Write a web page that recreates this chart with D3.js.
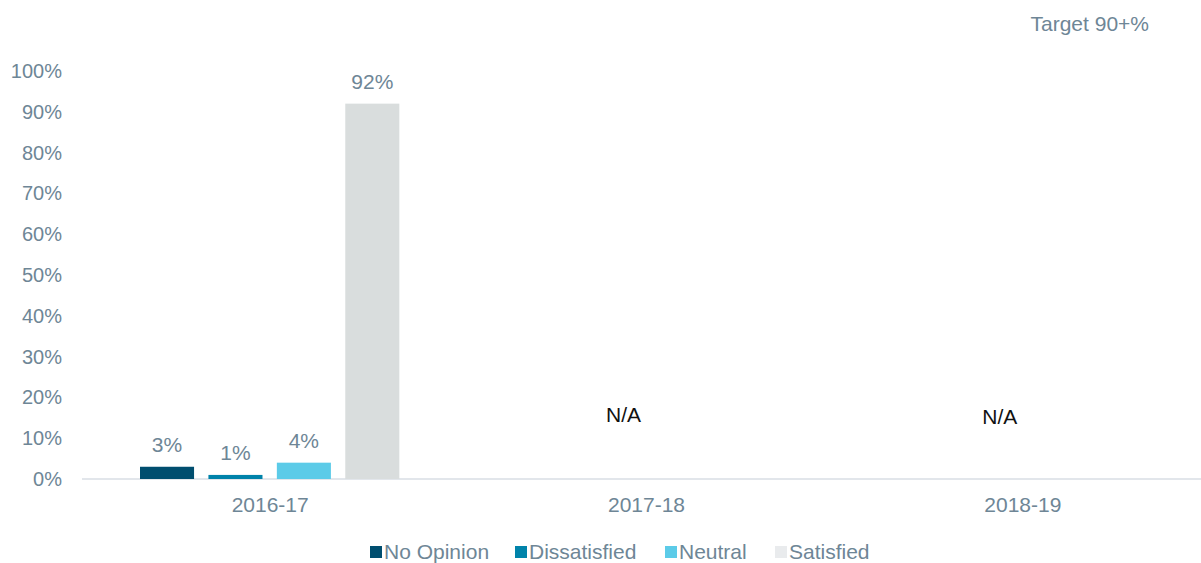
<!DOCTYPE html>
<html>
<head>
<meta charset="utf-8">
<script src="https://cdn.jsdelivr.net/npm/d3@7/dist/d3.min.js"></script>
<style>
  body { margin: 0; background: #fff; }
  text { font-family: "Liberation Sans", Arial, sans-serif; }
</style>
</head>
<body>
<div id="chart"></div>
<script>
const years = ['2016-17', '2017-18', '2018-19'];
const seriesNames = ['No Opinion', 'Dissatisfied', 'Neutral', 'Satisfied'];
const seriesColors = ['#004e6f', '#0083aa', '#5ccbe8', '#d9dddd'];
const legendColors = ['#004e6f', '#0083aa', '#5ccbe8', '#e9ebed'];
// one value per year for each series; null = no data
const noOpinion = [3, null, null];
const dissatisfied = [1, null, null];
const neutral = [4, null, null];
const satisfied = [92, null, null];
const yTicks = [0, 10, 20, 30, 40, 50, 60, 70, 80, 90, 100];
const naLabel = 'N/A';
const targetLabel = 'Target 90+%';

const values = [noOpinion, dissatisfied, neutral, satisfied];
const textColor = '#6e8696';

const width = 1201;
const height = 563;

const svg = d3.select('#chart').append('svg')
  .attr('width', width)
  .attr('height', height);

const x = d3.scaleBand()
  .domain(years)
  .range([82, 1211]);

const x1 = d3.scaleBand()
  .domain(seriesNames)
  .range([58, x.bandwidth() - 59])
  .paddingInner(0.21);

const y = d3.scaleLinear()
  .domain([0, 100])
  .range([479, 71]);

// y labels
svg.append('g')
  .selectAll('text')
  .data(yTicks)
  .join('text')
  .attr('x', 62)
  .attr('y', d => y(d))
  .attr('dy', '0.35em')
  .attr('text-anchor', 'end')
  .attr('fill', textColor)
  .style('font-size', '20px')
  .text(d => d + '%');

// baseline
svg.append('line')
  .attr('x1', 82)
  .attr('x2', width)
  .attr('y1', y(0))
  .attr('y2', y(0))
  .attr('stroke', '#d9dee4')
  .attr('stroke-width', 1.5);

// x labels
svg.append('g')
  .selectAll('text')
  .data(years)
  .join('text')
  .attr('x', d => x(d) + x.bandwidth() / 2)
  .attr('y', 512)
  .attr('text-anchor', 'middle')
  .attr('fill', textColor)
  .style('font-size', '21px')
  .text(d => d);

// bars
const groups = svg.append('g')
  .selectAll('g')
  .data(years)
  .join('g')
  .attr('transform', d => `translate(${x(d)},0)`);

const cells = groups.selectAll('g')
  .data((d, i) => seriesNames.map((s, k) => ({ series: s, k, value: values[k][i] })).filter(c => c.value != null))
  .join('g');

cells.append('rect')
  .attr('x', d => x1(d.series))
  .attr('width', x1.bandwidth())
  .attr('y', d => y(d.value))
  .attr('height', d => y(0) - y(d.value))
  .attr('fill', d => seriesColors[d.k]);

cells.append('text')
  .attr('x', d => x1(d.series) + x1.bandwidth() / 2)
  .attr('y', d => y(d.value) - 15)
  .attr('text-anchor', 'middle')
  .attr('fill', textColor)
  .style('font-size', '21px')
  .text(d => d.value + '%');

// N/A markers for years with no data
const missing = years.filter((yr, i) => values.every(v => v[i] == null));
svg.append('g')
  .selectAll('text')
  .data(missing)
  .join('text')
  .attr('x', (d, i) => x(d) + x.bandwidth() / 2 - 23)
  .attr('y', (d, i) => y(16) + 8 + i * 2)
  .attr('text-anchor', 'middle')
  .attr('fill', '#111')
  .style('font-size', '21px')
  .text(naLabel);

// target note
svg.append('text')
  .attr('x', 1149)
  .attr('y', 31)
  .attr('text-anchor', 'end')
  .attr('fill', textColor)
  .style('font-size', '21px')
  .text(targetLabel);

// legend
const legendX = [370, 515, 665, 775];
const legend = svg.append('g')
  .selectAll('g')
  .data(seriesNames)
  .join('g')
  .attr('transform', (d, i) => `translate(${legendX[i]},546)`);

legend.append('rect')
  .attr('width', 12)
  .attr('height', 12)
  .attr('fill', (d, i) => legendColors[i]);

legend.append('text')
  .attr('x', 14)
  .attr('y', 6)
  .attr('dy', '0.35em')
  .attr('fill', textColor)
  .style('font-size', '21px')
  .text(d => d);
</script>
</body>
</html>
